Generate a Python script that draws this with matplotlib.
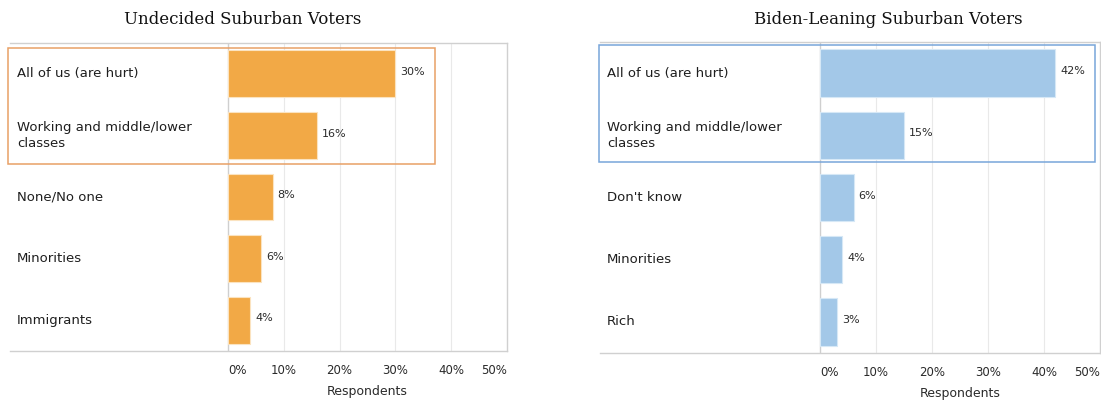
"""
Two horizontal bar panels: who is hurt, undecided vs Biden-leaning suburban voters.
"""

import matplotlib

matplotlib.use("Agg")
import matplotlib.pyplot as plt
import matplotlib.transforms as mtransforms
from matplotlib.patches import Rectangle

# --- data ---
undecided_labels = ["All of us (are hurt)", "Working and middle/lower\nclasses",
                    "None/No one", "Minorities", "Immigrants"]
undecided_values = [30, 16, 8, 6, 4]

biden_labels = ["All of us (are hurt)", "Working and middle/lower\nclasses",
                "Don't know", "Minorities", "Rich"]
biden_values = [42, 15, 6, 4, 3]

tick_values = [0, 10, 20, 30, 40, 50]
tick_labels = ["0%", "10%", "20%", "30%", "40%", "50%"]

# --- layout (pixels of a 1101x403 canvas) ---
W, H = 1101, 403
BAR_COLORS = {"left": "#F2A946", "right": "#A3C8E8"}
BAR_EDGES = {"left": "#FBE3C0", "right": "#D6E8F6"}
BOX_COLORS = {"left": "#E8A066", "right": "#78A6DA"}

fig = plt.figure(figsize=(W / 100, H / 100), dpi=100)


def make_panel(frame, zero_px, title, title_x, labels, values, key, box):
    x0, x1, top, bottom = frame
    ax = fig.add_axes([x0 / W, (H - bottom) / H, (x1 - x0) / W, (bottom - top) / H])
    ppu = (x1 - zero_px) / 50.0
    ax.set_xlim(-(zero_px - x0) / ppu, 50)
    ax.set_ylim(len(values) - 0.5, -0.5)

    ax.barh(range(len(values)), values, height=0.76, color=BAR_COLORS[key],
            edgecolor=BAR_EDGES[key], linewidth=0.8, zorder=3)
    for i, v in enumerate(values):
        ax.text(v + 0.9, i - 0.03, f"{v}%", fontsize=8, color="#2a2a2a",
                va="center", ha="left", zorder=4)

    trans = mtransforms.blended_transform_factory(ax.transAxes, ax.transData)
    for i, lab in enumerate(labels):
        ax.text(7 / (x1 - x0), i, lab, transform=trans, fontsize=9.5,
                color="#1e1e1e", va="center", ha="left", linespacing=1.25)

    # grid / zero line
    for t in tick_values[1:-1]:
        ax.axvline(t, color="#E9E9E9", linewidth=0.8, zorder=1)
    ax.axvline(0, color="#CFCFCF", linewidth=1.0, zorder=2)

    for side in ("top", "right", "bottom"):
        ax.spines[side].set_color("#D0D0D0")
        ax.spines[side].set_linewidth(1.0)
    ax.spines["left"].set_visible(False)

    ax.set_yticks([])
    ax.set_xticks(tick_values)
    ax.set_xticklabels(tick_labels, fontsize=8.5, color="#2a2a2a")
    ax.tick_params(axis="x", length=0, pad=9)
    tl = ax.get_xticklabels()
    tl[0].set_ha("left")
    tl[-1].set_ha("right")

    xt = mtransforms.blended_transform_factory(ax.transData, ax.transAxes)
    ax.text(25, -41 / (bottom - top), "Respondents", transform=xt, fontsize=9,
            color="#2a2a2a", ha="center", va="center")

    # highlight box around the top two rows
    bx0, bx1, by0, by1 = box
    ax.add_patch(Rectangle((bx0, by0), bx1 - bx0, by1 - by0, fill=False,
                           edgecolor=BOX_COLORS[key], linewidth=1.1,
                           clip_on=False, zorder=5))

    fig.text(title_x / W, 1 - 20 / H, title, fontsize=12, family="DejaVu Serif",
             ha="center", va="center", color="#111111")
    return ax


make_panel((10, 507, 43, 351), 228, "Undecided Suburban Voters", 243,
           undecided_labels, undecided_values, "left", (-39.4, 37.1, -0.42, 1.46))
make_panel((600, 1100, 42, 353), 820, "Biden-Leaning Suburban Voters", 888,
           biden_labels, biden_values, "right", (-39.5, 49.1, -0.45, 1.43))

fig.savefig("out.png", dpi=100)
